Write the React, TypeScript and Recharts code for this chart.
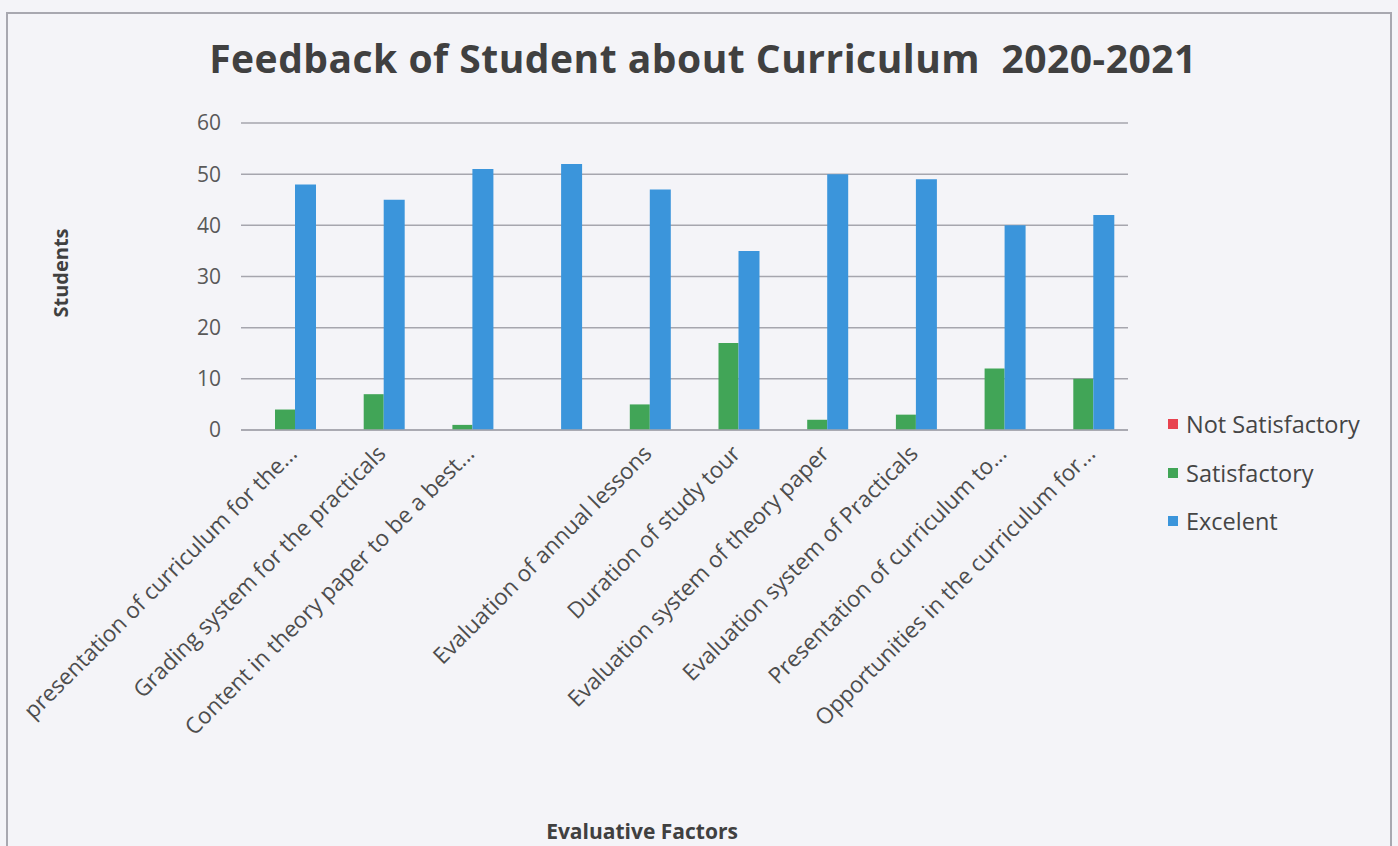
import React from "react";
import { BarChart, Bar, XAxis, YAxis, CartesianGrid, Legend } from "recharts";

const categories = [
  "presentation of curriculum for the...",
  "Grading system for the practicals",
  "Content in theory paper to be a best...",
  "",
  "Evaluation of annual lessons",
  "Duration of study tour",
  "Evaluation system of theory paper",
  "Evaluation system of Practicals",
  "Presentation of curriculum to...",
  "Opportunities in the curriculum for...",
];
const notSatisfactory = [0, 0, 0, 0, 0, 0, 0, 0, 0, 0];
const satisfactory = [4, 7, 1, 0, 5, 17, 2, 3, 12, 10];
const excelent = [48, 45, 51, 52, 47, 35, 50, 49, 40, 42];
const yTicks = [0, 10, 20, 30, 40, 50, 60];

const seriesNames = ["Not Satisfactory", "Satisfactory", "Excelent"];
const seriesColors = ["#e8424f", "#41a557", "#3b95db"];

const data = categories.map((c, i) => ({
  name: c,
  idx: i,
  ns: notSatisfactory[i],
  s: satisfactory[i],
  e: excelent[i],
}));

const FONT = "'Open Sans', sans-serif";

const XTick = (props: any) => {
  const { x, y, payload } = props;
  const label = categories[payload.value] ?? "";
  const ax = x + 13;
  const ay = y + 17;
  return (
    <text
      x={ax}
      y={ay}
      transform={`rotate(-45, ${ax}, ${ay})`}
      textAnchor="end"
      fill="#4d4d4d"
      fontSize={22.5}
      fontFamily={FONT}
    >
      {label}
    </text>
  );
};

const LegendContent = () => (
  <div style={{ fontFamily: FONT, fontSize: 23.5, color: "#454545" }}>
    {seriesNames.map((n, i) => (
      <div key={n} style={{ display: "flex", alignItems: "center", height: 48.5 }}>
        <span
          style={{
            display: "inline-block",
            width: 10,
            height: 10,
            background: seriesColors[i],
            marginRight: 8,
          }}
        />
        <span>{n}</span>
      </div>
    ))}
  </div>
);

export default function App() {
  return (
    <div
      style={{
        position: "absolute",
        left: 0,
        top: 0,
        width: 1398,
        height: 846,
        background: "#f4f4f8",
        overflow: "hidden",
        fontFamily: FONT,
      }}
    >
      <div
        style={{
          position: "absolute",
          left: 6,
          top: 12,
          width: 1386,
          height: 840,
          border: "2px solid #a8a8b0",
          boxSizing: "border-box",
        }}
      />
      <div
        style={{
          position: "absolute",
          left: 0,
          width: 1398,
          top: 33,
          textAlign: "center",
          fontSize: 39,
          fontWeight: 700,
          letterSpacing: 0.5,
          color: "#404040",
          lineHeight: "50px",
          paddingLeft: 4,
          whiteSpace: "pre",
        }}
      >
        {"Feedback of Student about Curriculum  2020-2021"}
      </div>
      <div
        style={{
          position: "absolute",
          left: 60,
          top: 273,
          transform: "translate(-50%, -50%) rotate(-90deg)",
          fontSize: 20,
          fontWeight: 700,
          color: "#404040",
          whiteSpace: "nowrap",
        }}
      >
        Students
      </div>
      <div
        style={{
          position: "absolute",
          left: 642,
          top: 831,
          transform: "translate(-50%, -50%)",
          fontSize: 21,
          fontWeight: 700,
          color: "#404040",
          whiteSpace: "nowrap",
        }}
      >
        Evaluative Factors
      </div>
      <div style={{ position: "absolute", left: 0, top: 0 }}>
        <BarChart
          width={1398}
          height={846}
          data={data}
          margin={{ top: 123, right: 270, left: 181, bottom: 116 }}
          barGap={0}
          barCategoryGap="15%"
        >
          <CartesianGrid vertical={false} stroke="#a6a6ae" strokeWidth={1.5} />
          <XAxis
            dataKey="idx"
            type="category"
            interval={0}
            height={300}
            tick={<XTick />}
            tickLine={false}
            axisLine={{ stroke: "#a6a6ae", strokeWidth: 1.5 }}
          />
          <YAxis
            width={60}
            domain={[0, 60]}
            ticks={yTicks}
            tickLine={false}
            axisLine={false}
            tickSize={0}
            tickMargin={20}
            tick={{ fill: "#595959", fontSize: 21, fontFamily: FONT }}
          />
          <Legend
            layout="vertical"
            align="center"
            verticalAlign="middle"
            content={<LegendContent />}
            wrapperStyle={{ position: "absolute", left: 1168, top: 400, width: 230 }}
          />
          <Bar dataKey="ns" name={seriesNames[0]} fill={seriesColors[0]} barSize={20} isAnimationActive={false} />
          <Bar dataKey="s" name={seriesNames[1]} fill={seriesColors[1]} barSize={20} isAnimationActive={false} />
          <Bar dataKey="e" name={seriesNames[2]} fill={seriesColors[2]} barSize={21} isAnimationActive={false} />
        </BarChart>
      </div>
    </div>
  );
}
